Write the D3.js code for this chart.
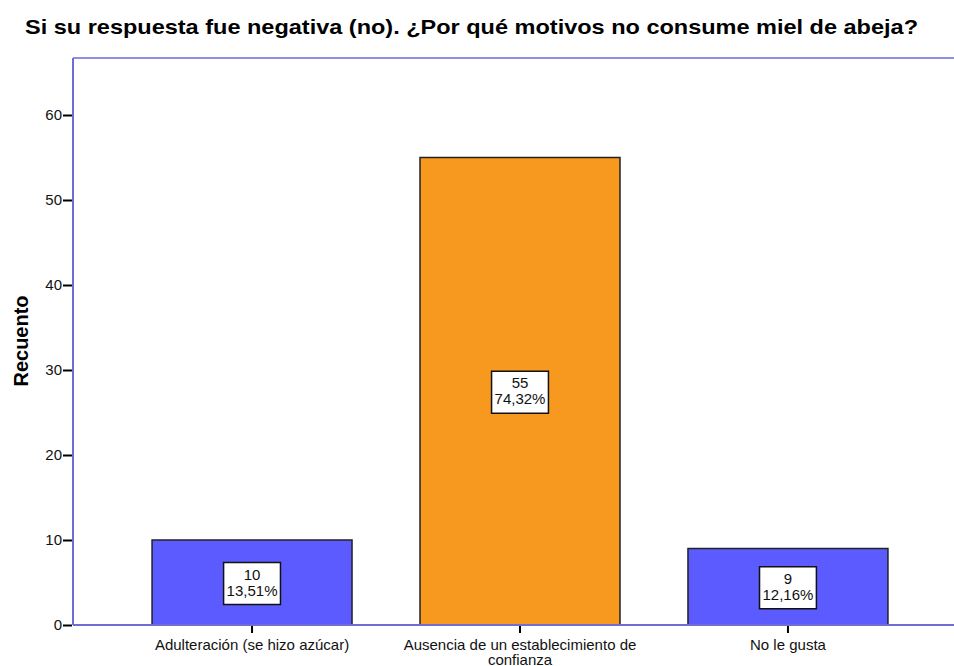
<!DOCTYPE html>
<html><head><meta charset="utf-8">
<script src="https://cdn.jsdelivr.net/npm/d3@7"></script>
<style>body{margin:0;background:#fff}svg{display:block}text{font-family:"Liberation Sans",Arial,sans-serif}</style>
</head><body>
<script>
const categories = ["Adulteración (se hizo azúcar)", "Ausencia de un establecimiento de confianza", "No le gusta"];
const counts = [10, 55, 9];
const percents = ["13,51%", "74,32%", "12,16%"];
const barColors = ["#5b5bff", "#f7991e", "#5b5bff"];
const yTicks = [0, 10, 20, 30, 40, 50, 60];
const title = "Si su respuesta fue negativa (no). ¿Por qué motivos no consume miel de abeja?";
const yTitle = "Recuento";

(function () {
const W = 954, H = 666;
const mLeft = 73, mTop = 58, mBottom = 625, rightExt = 967;
const svg = d3.select("body").append("svg").attr("width", W).attr("height", H);

const x = d3.scaleBand().domain(categories).range([mLeft, rightExt]).paddingInner(0.2537).paddingOuter(0.295);
const y = d3.scaleLinear().domain([0, 60]).range([mBottom, 115]);

// frame
svg.append("line").attr("x1", mLeft).attr("x2", W).attr("y1", mTop).attr("y2", mTop).attr("stroke", "#8e8ee6").attr("stroke-width", 2);
svg.append("line").attr("x1", mLeft).attr("x2", mLeft).attr("y1", mTop).attr("y2", mBottom).attr("stroke", "#6e6ed2").attr("stroke-width", 2);

// bars
svg.selectAll("rect.bar").data(categories).join("rect").attr("class", "bar")
  .attr("x", d => x(d)).attr("width", x.bandwidth())
  .attr("y", (d, i) => y(counts[i])).attr("height", (d, i) => y(0) - y(counts[i]))
  .attr("fill", (d, i) => barColors[i]).attr("stroke", "#222").attr("stroke-width", 1.5);

// baseline
svg.append("line").attr("x1", mLeft).attr("x2", W).attr("y1", mBottom).attr("y2", mBottom).attr("stroke", "#6e6ed2").attr("stroke-width", 2);

// y axis
const yAxis = d3.axisLeft(y).tickValues(yTicks).tickSize(9).tickPadding(1);
const gy = svg.append("g").attr("transform", `translate(${mLeft - 1},0)`).call(yAxis);
gy.select(".domain").remove();
gy.selectAll(".tick line").attr("stroke", "#000").attr("stroke-width", 2);
gy.selectAll(".tick text").attr("font-size", 15).attr("fill", "#111").attr("font-family", "Liberation Sans, Arial, sans-serif");

// x axis
const xAxis = d3.axisBottom(x).tickSize(7).tickPadding(4).tickFormat("");
const gx = svg.append("g").attr("transform", `translate(0,${mBottom + 1})`).call(xAxis);
gx.select(".domain").remove();
gx.selectAll(".tick line").attr("stroke", "#000").attr("stroke-width", 2);

// x labels (wrapped)
const wrapLines = ["Adulteración (se hizo azúcar)", ["Ausencia de un establecimiento de", "confianza"], "No le gusta"];
categories.forEach((c, i) => {
  const lines = Array.isArray(wrapLines[i]) ? wrapLines[i] : [wrapLines[i]];
  const t = svg.append("text").attr("x", x(c) + x.bandwidth() / 2).attr("y", 650)
    .attr("text-anchor", "middle").attr("font-size", 15).attr("fill", "#111");
  lines.forEach((l, j) => t.append("tspan").attr("x", x(c) + x.bandwidth() / 2).attr("dy", j ? 15 : 0).text(l));
});

// value labels
categories.forEach((c, i) => {
  const cx = x(c) + x.bandwidth() / 2;
  const cy = (y(counts[i]) + y(0)) / 2 + 1;
  const g = svg.append("g");
  const t = g.append("text").attr("text-anchor", "middle").attr("font-size", 15).attr("fill", "#111");
  t.append("tspan").attr("x", cx).attr("y", cy - 4).text(counts[i]);
  t.append("tspan").attr("x", cx).attr("y", cy + 12).text(percents[i]);
  const bb = t.node().getBBox();
  g.insert("rect", "text").attr("x", bb.x - 3).attr("y", cy - 21).attr("width", bb.width + 6).attr("height", 42)
    .attr("fill", "#fff").attr("stroke", "#111").attr("stroke-width", 1.5);
});

// titles
svg.append("text").attr("x", 25).attr("y", 34).attr("textLength", 893).attr("lengthAdjust", "spacingAndGlyphs")
  .attr("font-size", 21).attr("font-weight", "bold").attr("fill", "#000").text(title);
svg.append("text").attr("transform", "translate(28,341) rotate(-90)").attr("text-anchor", "middle")
  .attr("font-size", 20).attr("font-weight", "bold").attr("fill", "#000").text(yTitle);
})();
</script>
</body></html>
